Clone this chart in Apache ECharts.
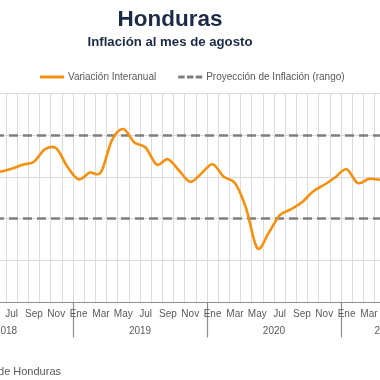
<!DOCTYPE html>
<html>
<head>
<meta charset="utf-8">
<script src="https://cdn.jsdelivr.net/npm/echarts@6/dist/echarts.min.js"></script>
<style>
html,body{margin:0;padding:0;width:380px;height:380px;overflow:hidden;background:#fff;position:relative}
#chart{position:absolute;left:-150px;top:0;width:600px;height:380px}
</style>
</head>
<body>
<div id="chart"></div>
<script>
// Months Ene 2018 .. Ago 2021
const monthNames = ['Ene','Feb','Mar','Abr','May','Jun','Jul','Ago','Sep','Oct','Nov','Dic'];
const years = ['2018','2019','2020','2021'];
const monthsPerYear = [12, 12, 12, 8];
// Variación interanual (%), null where outside the visible picture
const inflation2018 = [null, null, null, null, null, 4.12, 4.19, 4.29, 4.36, 4.66, 4.68, 4.24];
const inflation2019 = [3.94, 4.10, 4.11, 4.88, 5.14, 4.82, 4.70, 4.29, 4.42, 4.15, 3.88, 4.08];
const inflation2020 = [4.30, 4.00, 3.85, 3.25, 2.30, 2.65, 3.08, 3.22, 3.39, 3.65, 3.81, 3.99];
const inflation2021 = [4.18, 3.85, 3.95, 3.93, null, null, null, null];
const projectionRange = [3, 5];
const yTicks = [1, 2, 3, 4, 5, 6];

const categories = [];
years.forEach((y, yi) => {
  for (let m = 0; m < monthsPerYear[yi]; m++) categories.push(monthNames[m] + ' ' + y);
});
const values = [].concat(inflation2018, inflation2019, inflation2020, inflation2021);
const n = categories.length;
const firstValid = values.findIndex(v => v != null);
// year label positions (middle of each year's span, in month units)
const yearLabelAt = {};
let acc = 0;
years.forEach((y, yi) => { yearLabelAt[acc + monthsPerYear[yi] / 2] = y; acc += monthsPerYear[yi]; });

const chart = echarts.init(document.getElementById('chart'));
const txt = '#595959';
const orange = '#F5900E';
const font = 'Liberation Sans, Arial, sans-serif';
const dashIcon = 'path://M0,0 L7,0 L7,3 L0,3 Z M9.5,0 L16.5,0 L16.5,3 L9.5,3 Z M19,0 L26,0 L26,3 L19,3 Z';

// Smooth (Catmull-Rom) path through the data, positioned by the chart's own axes
function renderSmooth(params, api) {
  if (params.dataIndex !== firstValid) return null;
  const runs = [];
  let cur = [];
  values.forEach((v, i) => {
    if (v == null) { if (cur.length) runs.push(cur); cur = []; }
    else cur.push(api.coord([i, v]));
  });
  if (cur.length) runs.push(cur);
  let d = '';
  runs.forEach(p => {
    d += 'M' + p[0][0] + ',' + p[0][1];
    for (let i = 0; i < p.length - 1; i++) {
      const p0 = p[Math.max(i - 1, 0)], p1 = p[i], p2 = p[i + 1], p3 = p[Math.min(i + 2, p.length - 1)];
      const c1x = p1[0] + (p2[0] - p0[0]) / 6, c1y = p1[1] + (p2[1] - p0[1]) / 6;
      const c2x = p2[0] - (p3[0] - p1[0]) / 6, c2y = p2[1] - (p3[1] - p1[1]) / 6;
      d += 'C' + c1x + ',' + c1y + ',' + c2x + ',' + c2y + ',' + p2[0] + ',' + p2[1];
    }
  });
  return { type: 'path', shape: { pathData: d },
    style: { fill: 'none', stroke: orange, lineWidth: 2.6, lineJoin: 'round', lineCap: 'round' } };
}

chart.setOption({
  animation: false,
  title: [
    { text: 'Honduras', left: 315, top: 3, textAlign: 'center',
      textStyle: { fontFamily: font, fontSize: 22.5, fontWeight: 'bold', color: '#1b2b47' } },
    { text: 'Inflación al mes de agosto', left: 315, top: 31, textAlign: 'center',
      textStyle: { fontFamily: font, fontSize: 13.2, fontWeight: 'bold', color: '#1b2b47' } }
  ],
  legend: {
    left: 185, top: 67, itemWidth: 24, itemHeight: 3, itemGap: 22,
    textStyle: { fontFamily: font, fontSize: 10, color: txt, padding: [0, 0, 0, -1] },
    data: [
      { name: 'Variación Interanual', icon: 'rect' },
      { name: 'Proyección de Inflación (rango)', icon: dashIcon }
    ]
  },
  grid: { left: 89, width: 491.33, top: 93, bottom: 77.5, outerBoundsMode: 'none' },
  xAxis: [
    { type: 'category', data: categories, boundaryGap: true,
      axisLine: { lineStyle: { color: '#8c8c8c', width: 1 } },
      axisTick: { show: false },
      axisLabel: { interval: 0, margin: 7, fontFamily: font, fontSize: 10, color: txt,
        formatter: (v, i) => (i % 2 === 0 ? v.split(' ')[0] : '') },
      splitLine: { show: true, interval: 0, lineStyle: { color: '#dcdcdc', width: 1 } } },
    { type: 'category', data: categories, boundaryGap: true, position: 'bottom',
      axisLine: { show: false },
      axisTick: { show: true, length: 35, interval: (i) => i % 12 === 0, lineStyle: { color: '#8c8c8c', width: 1.2 } },
      axisLabel: { show: false }, splitLine: { show: false } },
    { type: 'value', min: 0, max: n, interval: 2, position: 'bottom',
      axisLine: { show: false }, axisTick: { show: false }, splitLine: { show: false },
      axisLabel: { margin: 24, fontFamily: font, fontSize: 10, color: txt, showMinLabel: true, showMaxLabel: true,
        formatter: (v) => yearLabelAt[v] || '' } }
  ],
  yAxis: {
    type: 'value', min: yTicks[0], max: yTicks[yTicks.length - 1], interval: 1,
    axisLine: { show: false }, axisTick: { show: false }, axisLabel: { show: false },
    splitLine: { lineStyle: { color: '#d9d9d9', width: 1 } }
  },
  series: [
    { name: 'Variación Interanual', type: 'custom', renderItem: renderSmooth,
      data: values.map((v, i) => [i, v]), encode: { x: 0, y: 1 },
      itemStyle: { color: orange }, clip: true, z: 5 },
    { name: 'Proyección de Inflación (rango)', type: 'line', data: [], symbol: 'none',
      color: '#7f7f7f', lineStyle: { color: '#7f7f7f', width: 2.5, type: [9, 5] },
      markLine: { silent: true, symbol: 'none', label: { show: false },
        lineStyle: { color: '#7f7f7f', width: 2.5, type: [9, 5] },
        data: projectionRange.map(v => ({ yAxis: v })) }, z: 3 }
  ],
  graphic: [
    { type: 'text', right: 600 - 211, top: 366,
      style: { text: 'Fuente: Banco Central de Honduras', fontFamily: font, fontSize: 11, fill: txt, textAlign: 'right' } }
  ]
});
</script>
</body>
</html>
